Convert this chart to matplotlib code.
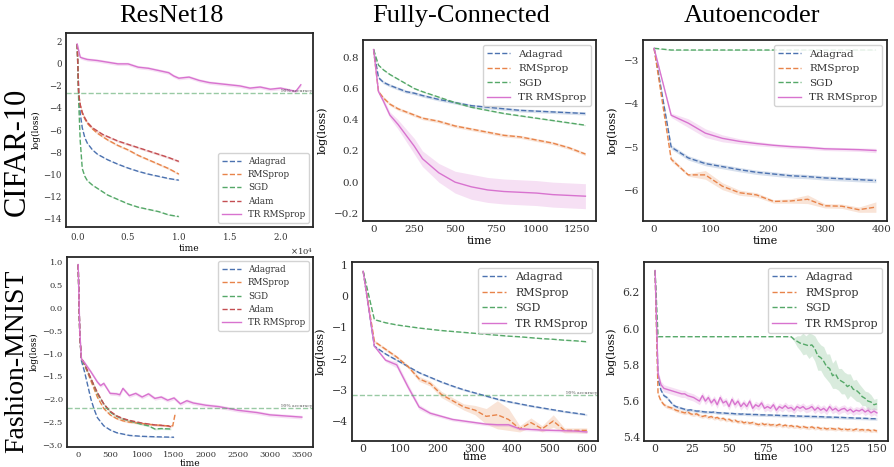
import numpy as np
import matplotlib
matplotlib.use('Agg')
import matplotlib.pyplot as plt
from matplotlib.ticker import MultipleLocator, ScalarFormatter

W, H = 894, 467

# seaborn-like colours
C_ADA = '#4C72B0'
C_RMS = '#E8844A'
C_SGD = '#55A868'
C_ADAM = '#C44E52'
C_TR = '#D873CF'

# ---------------- ResNet18 / CIFAR-10 ----------------
rc_t = [0, 150, 300, 500, 750, 1000, 1500, 2000, 2500, 3000, 4000, 5000, 6000, 7000, 8000, 9000, 10000]
rc_ada = [1.8, -2.5, -4.5, -5.8, -6.7, -7.2, -7.8, -8.2, -8.45, -8.7, -9.1, -9.45, -9.75, -10.0, -10.2, -10.4, -10.55]
rc_rms = [1.8, -2.8, -3.8, -4.5, -5.0, -5.4, -5.9, -6.3, -6.6, -6.9, -7.4, -7.8, -8.3, -8.7, -9.1, -9.5, -10.0]
rc_sgd = [1.8, -3.5, -7.0, -9.5, -10.2, -10.6, -11.0, -11.3, -11.6, -11.9, -12.3, -12.7, -13.0, -13.2, -13.4, -13.7, -13.85]
rc_adam = [1.8, -2.7, -3.7, -4.4, -4.9, -5.3, -5.8, -6.1, -6.4, -6.6, -7.0, -7.3, -7.6, -7.9, -8.2, -8.5, -8.85]
rc_tr_t = [0, 300, 600, 1000, 2000, 3000, 4000, 5000, 6000, 7000, 8000, 9000, 9500, 10000,
           11000, 12000, 13000, 14000, 15000, 16000, 17000, 18000, 19000, 20000, 21000, 21500, 22000]
rc_tr = [1.8, 0.6, 0.5, 0.4, 0.3, 0.15, 0.0, 0.0, -0.3, -0.4, -0.6, -0.8, -1.1, -1.3,
         -1.2, -1.5, -1.7, -1.8, -1.9, -2.0, -2.2, -2.1, -2.3, -2.2, -2.4, -2.5, -1.9]
rc_acc = -2.6

# ---------------- Fully-Connected / CIFAR-10 ----------------
fc_t = [0, 30, 60, 100, 150, 200, 250, 300, 400, 500, 600, 700, 800, 900, 1000, 1100, 1200, 1300]
fc_ada = [0.85, 0.67, 0.64, 0.62, 0.60, 0.58, 0.57, 0.555, 0.53, 0.51, 0.49, 0.48, 0.47, 0.46, 0.455, 0.45, 0.445, 0.44]
fc_rms = [0.85, 0.58, 0.54, 0.50, 0.47, 0.45, 0.43, 0.41, 0.39, 0.36, 0.34, 0.32, 0.30, 0.29, 0.27, 0.25, 0.22, 0.18]
fc_sgd = [0.85, 0.75, 0.72, 0.69, 0.66, 0.63, 0.60, 0.58, 0.545, 0.51, 0.48, 0.46, 0.44, 0.425, 0.41, 0.395, 0.38, 0.365]
fc_tr = [0.85, 0.58, 0.52, 0.43, 0.37, 0.30, 0.23, 0.15, 0.06, 0.0, -0.03, -0.05, -0.06, -0.065, -0.07, -0.08, -0.085, -0.09]
fc_tr_sd = [0, 0.01, 0.02, 0.02, 0.03, 0.04, 0.05, 0.05, 0.06, 0.07, 0.08, 0.08, 0.08, 0.08, 0.08, 0.08, 0.08, 0.08]

# ---------------- Autoencoder / CIFAR-10 ----------------
ac_t = [0, 30, 60, 90, 120, 150, 180, 210, 240, 270, 300, 330, 360, 390]
ac_ada = [-2.73, -5.0, -5.25, -5.38, -5.45, -5.52, -5.58, -5.62, -5.66, -5.68, -5.71, -5.73, -5.75, -5.77]
ac_rms = [-2.73, -5.28, -5.64, -5.64, -5.9, -6.05, -6.1, -6.25, -6.24, -6.2, -6.35, -6.36, -6.44, -6.38]
ac_sgd = [-2.73, -2.77, -2.77, -2.77, -2.77, -2.77, -2.77, -2.77, -2.77, -2.77, -2.77, -2.77, -2.77, -2.77]
ac_tr = [-2.73, -4.27, -4.45, -4.68, -4.8, -4.87, -4.92, -4.96, -4.99, -5.01, -5.04, -5.05, -5.06, -5.08]
ac_rms_sd = [0, 0.05, 0.03, 0.1, 0.08, 0.06, 0.05, 0.04, 0.05, 0.1, 0.05, 0.05, 0.06, 0.12]
ac_tr_sd = [0, 0.05, 0.1, 0.1, 0.08, 0.06, 0.05, 0.04, 0.04, 0.04, 0.04, 0.04, 0.04, 0.05]

# ---------------- ResNet18 / Fashion-MNIST ----------------
rf_ada_t = [0, 25, 50, 100, 150, 200, 250, 300, 400, 500, 600, 800, 1000, 1200, 1500]
rf_ada = [0.95, -0.6, -1.15, -1.4, -1.7, -2.0, -2.22, -2.4, -2.58, -2.67, -2.73, -2.79, -2.81, -2.82, -2.83]
rf_rms_t = [0, 25, 50, 100, 200, 300, 400, 500, 600, 700, 800, 1000, 1200, 1400, 1480, 1520]
rf_rms = [0.95, -0.6, -1.1, -1.25, -1.6, -1.95, -2.2, -2.34, -2.42, -2.47, -2.5, -2.53, -2.56, -2.58, -2.58, -2.3]
rf_sgd_t = [0, 25, 50, 100, 200, 300, 400, 500, 600, 700, 800, 1000, 1100, 1200, 1300, 1450]
rf_sgd = [0.95, -0.6, -1.1, -1.25, -1.55, -1.88, -2.1, -2.28, -2.37, -2.43, -2.47, -2.55, -2.58, -2.65, -2.64, -2.65]
rf_adam_t = [0, 25, 50, 100, 200, 300, 400, 500, 600, 700, 800, 1000, 1200, 1400, 1450]
rf_adam = [0.95, -0.6, -1.1, -1.22, -1.55, -1.85, -2.1, -2.26, -2.36, -2.42, -2.46, -2.52, -2.56, -2.58, -2.6]
rf_tr_t = [0, 25, 50, 100, 200, 300, 350, 400, 500, 600, 650, 700, 800, 900, 1000, 1100, 1200, 1300,
           1400, 1500, 1600, 1700, 1800, 2000, 2200, 2500, 2800, 3000, 3200, 3500]
rf_tr = [0.95, -0.5, -1.12, -1.2, -1.4, -1.62, -1.7, -1.65, -1.87, -1.88, -1.9, -1.76, -1.92, -1.87, -1.95, -1.88,
         -1.98, -1.95, -2.02, -1.97, -2.1, -2.03, -2.08, -2.13, -2.16, -2.24, -2.29, -2.34, -2.36, -2.39]
rf_acc = -2.2

# ---------------- Fully-Connected / Fashion-MNIST ----------------
ff_t = [0, 30, 60, 90, 120, 150, 180, 210, 240, 270, 300, 330, 360, 390, 420, 450, 480, 510, 540, 570, 600]
ff_ada = [0.8, -1.6, -1.85, -2.05, -2.25, -2.45, -2.6, -2.75, -2.88, -3.0, -3.1, -3.2, -3.3, -3.38, -3.45,
          -3.52, -3.58, -3.64, -3.7, -3.75, -3.8]
ff_rms = [0.8, -1.45, -1.7, -1.95, -2.25, -2.65, -2.8, -3.15, -3.35, -3.55, -3.65, -3.85, -3.8, -3.95, -4.25,
          -4.05, -4.25, -4.0, -4.3, -4.3, -4.3]
ff_sgd = [0.8, -0.75, -0.85, -0.92, -0.97, -1.02, -1.06, -1.1, -1.13, -1.16, -1.19, -1.22, -1.25, -1.28, -1.3,
          -1.33, -1.36, -1.38, -1.41, -1.43, -1.46]
ff_tr = [0.8, -1.6, -2.05, -2.2, -2.9, -3.55, -3.75, -3.85, -3.95, -4.0, -4.05, -4.1, -4.12, -4.12, -4.25,
         -4.27, -4.29, -4.3, -4.31, -4.32, -4.35]
ff_rms_sd = [0, 0.05, 0.05, 0.05, 0.05, 0.08, 0.08, 0.1, 0.1, 0.1, 0.15, 0.25, 0.45, 0.35, 0.1,
             0.15, 0.1, 0.2, 0.08, 0.08, 0.08]
ff_tr_sd = [0, 0.03, 0.05, 0.1, 0.1, 0.08, 0.06, 0.05, 0.05, 0.05, 0.05, 0.05, 0.05, 0.05, 0.05,
            0.05, 0.05, 0.05, 0.05, 0.05, 0.05]
ff_acc = -3.17

# ---------------- Autoencoder / Fashion-MNIST ----------------
af_t = np.arange(0, 151, 2)
af_ada = [6.32, 5.72, 5.66, 5.63, 5.62, 5.60, 5.58, 5.57, 5.565, 5.56,
          5.555, 5.55, 5.552, 5.548, 5.545, 5.545, 5.542, 5.54, 5.54, 5.538,
          5.54, 5.536, 5.535, 5.535, 5.533, 5.532, 5.532, 5.53, 5.53, 5.528,
          5.53, 5.527, 5.527, 5.526, 5.526, 5.525, 5.524, 5.524, 5.523, 5.523,
          5.522, 5.522, 5.521, 5.52, 5.52, 5.52, 5.519, 5.518, 5.518, 5.517,
          5.517, 5.516, 5.516, 5.515, 5.515, 5.514, 5.514, 5.513, 5.512, 5.512,
          5.511, 5.511, 5.51, 5.51, 5.509, 5.508, 5.508, 5.507, 5.506, 5.506,
          5.505, 5.505, 5.504, 5.503, 5.503, 5.502]
af_rms = [6.32, 5.64, 5.60, 5.58, 5.57, 5.565, 5.56, 5.55, 5.545, 5.54,
          5.535, 5.54, 5.53, 5.525, 5.53, 5.52, 5.515, 5.52, 5.51, 5.515,
          5.505, 5.51, 5.50, 5.505, 5.495, 5.50, 5.49, 5.495, 5.485, 5.49,
          5.48, 5.485, 5.478, 5.482, 5.475, 5.47, 5.478, 5.47, 5.475, 5.468,
          5.47, 5.465, 5.472, 5.462, 5.468, 5.46, 5.465, 5.458, 5.462, 5.455,
          5.46, 5.455, 5.452, 5.458, 5.45, 5.455, 5.448, 5.452, 5.446, 5.45,
          5.448, 5.445, 5.45, 5.443, 5.447, 5.442, 5.445, 5.44, 5.446, 5.44,
          5.443, 5.438, 5.442, 5.436, 5.44, 5.435]
af_sgd = [6.32, 5.955, 5.955, 5.955, 5.955, 5.955, 5.955, 5.955, 5.955, 5.955,
          5.955, 5.955, 5.955, 5.955, 5.955, 5.955, 5.955, 5.955, 5.955, 5.955,
          5.955, 5.955, 5.955, 5.955, 5.955, 5.955, 5.955, 5.955, 5.955, 5.955,
          5.955, 5.955, 5.955, 5.955, 5.955, 5.955, 5.955, 5.955, 5.955, 5.955,
          5.955, 5.955, 5.955, 5.955, 5.955, 5.955, 5.955, 5.94, 5.93, 5.92,
          5.915, 5.91, 5.905, 5.91, 5.89, 5.85, 5.84, 5.82, 5.79, 5.78,
          5.74, 5.75, 5.72, 5.71, 5.70, 5.68, 5.69, 5.665, 5.66, 5.645,
          5.625, 5.615, 5.60, 5.595, 5.58, 5.585]
af_tr = [6.32, 5.75, 5.69, 5.67, 5.665, 5.66, 5.655, 5.65, 5.645, 5.64,
         5.64, 5.63, 5.625, 5.62, 5.61, 5.60, 5.63, 5.60, 5.62, 5.59,
         5.61, 5.58, 5.62, 5.59, 5.60, 5.57, 5.61, 5.58, 5.60, 5.57,
         5.59, 5.57, 5.60, 5.56, 5.58, 5.57, 5.59, 5.56, 5.57, 5.56,
         5.58, 5.55, 5.57, 5.56, 5.575, 5.56, 5.565, 5.55, 5.57, 5.56,
         5.57, 5.555, 5.56, 5.57, 5.55, 5.565, 5.55, 5.56, 5.545, 5.57,
         5.55, 5.56, 5.545, 5.555, 5.56, 5.545, 5.555, 5.54, 5.55, 5.545,
         5.555, 5.54, 5.55, 5.535, 5.545, 5.535]
af_sgd_sd = [0] * 46 + [0.005, 0.01, 0.03, 0.04,
             0.06, 0.05, 0.07, 0.06, 0.07, 0.08, 0.07, 0.08, 0.07, 0.08,
             0.07, 0.08, 0.06, 0.07, 0.06, 0.07, 0.06, 0.05, 0.06, 0.05,
             0.05, 0.04, 0.05, 0.04, 0.03, 0.03]

SERIF = 'DejaVu Serif'
TITLE_FONT = 'Liberation Serif'
plt.rcParams['font.family'] = SERIF
plt.rcParams['axes.unicode_minus'] = True

fig = plt.figure(figsize=(W / 100, H / 100), dpi=100)


def box(l, t, r, b):
    return [l / W, 1 - b / H, (r - l) / W, (b - t) / H]


def line(ax, x, y, color, label, sd=None, solid=False):
    x = np.asarray(x, dtype=float)
    y = np.asarray(y, dtype=float)
    ax.plot(x, y, ls='-' if solid else '--', lw=1.0, color=color, label=label)
    if sd is not None:
        sd = np.asarray(sd, dtype=float) * np.ones_like(y)
        ax.fill_between(x, y - sd, y + sd, color=color, alpha=0.22, lw=0)


def style(ax, tsize, xlim, ylim, xstep, ystep):
    ax.set_xlim(*xlim)
    ax.set_ylim(*ylim)
    ax.xaxis.set_major_locator(MultipleLocator(xstep))
    ax.yaxis.set_major_locator(MultipleLocator(ystep))
    ax.tick_params(length=0, labelsize=tsize, pad=3, colors='#333333')
    for s in ax.spines.values():
        s.set_color('#262626')
        s.set_linewidth(1.3)


def acc_line(ax, y):
    ax.axhline(y, color=C_SGD, ls='--', lw=1.0, alpha=0.6)
    ax.text(0.995, y, '99% accuracy', transform=ax.get_yaxis_transform(),
            ha='right', va='bottom', fontsize=3.2, color='#555555')


def legend(ax, size, loc='upper right'):
    lg = ax.legend(loc=loc, fontsize=size, frameon=True, fancybox=True,
                   framealpha=0.85, edgecolor='#cccccc', handlelength=2.2, borderpad=0.4)
    for t in lg.get_texts():
        t.set_color('#333333')


# --- ResNet18 CIFAR-10
ax = fig.add_axes(box(66, 33, 313, 227))
line(ax, rc_t, rc_ada, C_ADA, 'Adagrad', 0.05)
line(ax, rc_t, rc_rms, C_RMS, 'RMSprop', 0.1)
line(ax, rc_t, rc_sgd, C_SGD, 'SGD', 0.05)
line(ax, rc_t, rc_adam, C_ADAM, 'Adam', 0.1)
line(ax, rc_tr_t, rc_tr, C_TR, 'TR RMSprop', 0.15, solid=True)
acc_line(ax, rc_acc)
style(ax, 6.2, (-1100, 23200), (-14.8, 2.8), 5000, 2)
fmt = ScalarFormatter(useMathText=True)
fmt.set_powerlimits((0, 0))
ax.xaxis.set_major_formatter(fmt)
ax.xaxis.get_offset_text().set_fontsize(6)
ax.set_xlabel('time', fontsize=6.5, labelpad=1)
ax.set_ylabel('log(loss)', fontsize=6.5, labelpad=2)
legend(ax, 6.3, loc='lower right')

# --- FC CIFAR-10
ax = fig.add_axes(box(363, 40, 596, 221))
line(ax, fc_t, fc_ada, C_ADA, 'Adagrad', 0.01)
line(ax, fc_t, fc_rms, C_RMS, 'RMSprop', 0.01)
line(ax, fc_t, fc_sgd, C_SGD, 'SGD', 0.004)
line(ax, fc_t, fc_tr, C_TR, 'TR RMSprop', fc_tr_sd, solid=True)
style(ax, 7.5, (-65, 1365), (-0.249, 0.911), 250, 0.2)
ax.set_xlabel('time', fontsize=8, labelpad=1)
ax.set_ylabel('log(loss)', fontsize=8, labelpad=4)
legend(ax, 7.5)

# --- AE CIFAR-10
ax = fig.add_axes(box(643, 40, 887, 221))
line(ax, ac_t, ac_ada, C_ADA, 'Adagrad', 0.05)
line(ax, ac_t, ac_rms, C_RMS, 'RMSprop', ac_rms_sd)
line(ax, ac_t, ac_sgd, C_SGD, 'SGD', 0.01)
line(ax, ac_t, ac_tr, C_TR, 'TR RMSprop', ac_tr_sd, solid=True)
style(ax, 7.5, (-19.5, 409.5), (-6.70, -2.54), 100, 1)
ax.set_xlabel('time', fontsize=8, labelpad=1)
ax.set_ylabel('log(loss)', fontsize=8, labelpad=4)
legend(ax, 7.5)

# --- ResNet18 Fashion-MNIST
ax = fig.add_axes(box(67, 257, 313, 447))
line(ax, rf_ada_t, rf_ada, C_ADA, 'Adagrad', 0.01)
line(ax, rf_rms_t, rf_rms, C_RMS, 'RMSprop', 0.02)
line(ax, rf_sgd_t, rf_sgd, C_SGD, 'SGD', 0.02)
line(ax, rf_adam_t, rf_adam, C_ADAM, 'Adam', 0.02)
line(ax, rf_tr_t, rf_tr, C_TR, 'TR RMSprop', 0.04, solid=True)
acc_line(ax, rf_acc)
style(ax, 6, (-175, 3675), (-3.044, 1.116), 500, 0.5)
ax.set_xlabel('time', fontsize=6.5, labelpad=0)
ax.set_ylabel('log(loss)', fontsize=6.5, labelpad=3)
legend(ax, 6.3)

# --- FC Fashion-MNIST
ax = fig.add_axes(box(352, 262, 598, 441))
line(ax, ff_t, ff_ada, C_ADA, 'Adagrad', 0.03)
line(ax, ff_t, ff_rms, C_RMS, 'RMSprop', ff_rms_sd)
line(ax, ff_t, ff_sgd, C_SGD, 'SGD', 0.01)
line(ax, ff_t, ff_tr, C_TR, 'TR RMSprop', ff_tr_sd, solid=True)
acc_line(ax, ff_acc)
style(ax, 7.8, (-30, 630), (-4.64, 1.096), 100, 1)
ax.tick_params(axis='x', pad=2)
ax.set_xlabel('time', fontsize=7.8, labelpad=-1)
ax.set_ylabel('log(loss)', fontsize=8, labelpad=4)
legend(ax, 8)

# --- AE Fashion-MNIST
ax = fig.add_axes(box(644, 262, 888, 441))
line(ax, af_t, af_ada, C_ADA, 'Adagrad', 0.008)
line(ax, af_t, af_rms, C_RMS, 'RMSprop', 0.01)
line(ax, af_t, af_sgd, C_SGD, 'SGD', af_sgd_sd)
line(ax, af_t, af_tr, C_TR, 'TR RMSprop', 0.02, solid=True)
style(ax, 7.8, (-7.5, 157.5), (5.38, 6.367), 25, 0.2)
ax.tick_params(axis='x', pad=2)
ax.set_xlabel('time', fontsize=7.8, labelpad=-1)
ax.set_ylabel('log(loss)', fontsize=8, labelpad=4)
legend(ax, 8)

# column titles
for x, name in [(171, 'ResNet18'), (461, 'Fully-Connected'), (752, 'Autoencoder')]:
    fig.text(x / W, 1 - 16 / H, name, ha='center', va='center', fontsize=19, family=TITLE_FONT)

# row labels
fig.text(17 / W, 1 - 152 / H, 'CIFAR-10', rotation=90, ha='center', va='center',
         fontsize=22, family=TITLE_FONT)
fig.text(17 / W, 1 - 361 / H, 'Fashion-MNIST', rotation=90, ha='center', va='center',
         fontsize=20, family=TITLE_FONT)

fig.savefig('out.png', dpi=100)
